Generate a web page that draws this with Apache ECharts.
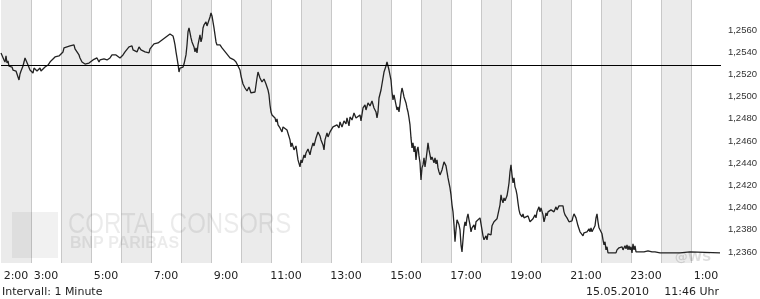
<!DOCTYPE html>
<html><head><meta charset="utf-8">
<script src="https://cdn.jsdelivr.net/npm/echarts@6/dist/echarts.min.js"></script>
<style>html,body{margin:0;padding:0;background:#fff}#c{width:760px;height:299px}</style>
</head><body><div id="c"></div>
<script>
// Hour bands of the trading day (2:00 ... 1:00 next day)
const hourLabels = ['2:00','3:00','4:00','5:00','6:00','7:00','8:00','9:00','10:00','11:00','12:00','13:00',
  '14:00','15:00','16:00','17:00','18:00','19:00','20:00','21:00','22:00','23:00','0:00','1:00'];
// Time axis span in minutes after midnight (1:30 ... 1:30 next day)
const timeStart = 90, timeEnd = 1530;
// Value span of the plot, and the labelled tick range / step
const yMin = 1.2350, yMax = 1.2587;
const tickLow = 1.2360, tickHigh = 1.2560, yStep = 0.0020;
// Previous close reference line
const previousClose = 1.25282;
// [minute of day, EUR/USD quote]
const quotes = [
[90,1.25393],[94,1.25402],[96,1.25330],[98,1.25311],[100,1.25366],[102,1.25302],[104,1.25321],[106,1.25275],[108,1.25257],[110,1.25293],
[112,1.25266],[114,1.25239],[116,1.25257],[118,1.25221],[120,1.25230],[122,1.25203],[124,1.25176],[126,1.25149],[128,1.25203],[130,1.25230],
[132,1.25239],[134,1.25275],[136,1.25311],[138,1.25348],[140,1.25357],[142,1.25330],[144,1.25284],[146,1.25266],[148,1.25239],[150,1.25257],
[152,1.25221],[154,1.25212],[156,1.25257],[158,1.25239],[160,1.25266],[162,1.25230],[164,1.25248],[166,1.25239],[168,1.25257],[170,1.25230],
[174,1.25248],[178,1.25266],[182,1.25257],[184,1.25284],[188,1.25311],[192,1.25330],[194,1.25321],[198,1.25357],[202,1.25348],[206,1.25366],
[210,1.25357],[214,1.25402],[216,1.25438],[218,1.25420],[220,1.25456],[222,1.25447],[224,1.25465],[228,1.25456],[230,1.25474],[232,1.25456],
[236,1.25465],[238,1.25429],[240,1.25438],[242,1.25402],[244,1.25411],[246,1.25375],[248,1.25348],[250,1.25330],[252,1.25311],[254,1.25321],
[256,1.25302],[258,1.25293],[262,1.25311],[266,1.25302],[270,1.25311],[274,1.25330],[278,1.25321],[282,1.25348],[286,1.25311],[288,1.25330],
[292,1.25348],[296,1.25339],[300,1.25357],[302,1.25330],[304,1.25321],[308,1.25348],[312,1.25375],[316,1.25384],[320,1.25375],[324,1.25366],
[328,1.25348],[330,1.25357],[334,1.25375],[338,1.25402],[342,1.25420],[346,1.25447],
[348,1.25438],[352,1.25456],[354,1.25420],[358,1.25438],[362,1.25402],[366,1.25447],[370,1.25420],[374,1.25438],[378,1.25402],[382,1.25420],
[386,1.25393],[388,1.25429],[392,1.25447],[396,1.25474],[400,1.25465],[404,1.25483],[408,1.25492],[412,1.25510],[416,1.25501],[420,1.25537],
[424,1.25555],[428,1.25564],[432,1.25573],[434,1.25546],[436,1.25510],[438,1.25465],[440,1.25402],[442,1.25348],[444,1.25293],[446,1.25221],
[448,1.25257],[450,1.25239],[452,1.25275],[454,1.25266],[456,1.25293],[458,1.25311],[460,1.25375],[462,1.25465],[464,1.25582],[466,1.25618],
[468,1.25600],[470,1.25528],[472,1.25492],[474,1.25510],[476,1.25447],[478,1.25402],[480,1.25438],[482,1.25393],[484,1.25465],[486,1.25510],
[488,1.25555],[490,1.25492],[492,1.25528],[494,1.25618],[496,1.25645],[498,1.25627],[500,1.25672],[502,1.25636],[504,1.25654],[506,1.25690],
[508,1.25717],[510,1.25753],[512,1.25726],[514,1.25672],[516,1.25618],[518,1.25555],[520,1.25492],[522,1.25465],[524,1.25483],[526,1.25447],
[528,1.25465],[532,1.25438],[536,1.25420],[540,1.25393],[544,1.25375],[548,1.25348],[552,1.25366],[556,1.25330],[560,1.25311],[564,1.25275],
[568,1.25239],[570,1.25185],[572,1.25149],[574,1.25113],[578,1.25077],[582,1.25050],[586,1.25086],[590,1.25032],[594,1.25014],[598,1.25041],
[600,1.25059],[602,1.25167],[604,1.25221],[606,1.25203],[608,1.25167],[612,1.25131],[616,1.25158],[620,1.25113],[624,1.25059],[626,1.25014],
[628,1.24924],[630,1.24861],[632,1.24834],[636,1.24852],[638,1.24807],[640,1.24771],[642,1.24798],[644,1.24744],[648,1.24717],[652,1.24681],
[654,1.24726],[658,1.24744],[662,1.24699],[664,1.24717],[668,1.24609],[670,1.24546],[672,1.24582],[676,1.24519],[680,1.24555],[682,1.24492],
[684,1.24429],[686,1.24411],[688,1.24366],[690,1.24429],[692,1.24402],[696,1.24474],[698,1.24447],[700,1.24492],[704,1.24528],[708,1.24474],
[710,1.24519],[714,1.24582],[716,1.24555],[720,1.24627],[722,1.24609],[724,1.24681],[728,1.24645],[730,1.24609],[734,1.24564],[736,1.24519],
[738,1.24609],[742,1.24672],[744,1.24636],[748,1.24681],[752,1.24699],[754,1.24726],[758,1.24708],[762,1.24744],[766,1.24717],[768,1.24771],
[772,1.24726],[776,1.24780],[780,1.24753],[782,1.24807],[786,1.24735],[788,1.24816],[792,1.24789],[796,1.24852],[800,1.24807],[804,1.24789],
[808,1.24834],[810,1.24780],[814,1.24897],[818,1.24924],[820,1.24879],[824,1.24942],[828,1.24915],[832,1.24960],[836,1.24897],[840,1.24861],
[842,1.24807],[844,1.24861],[846,1.24987],[850,1.25059],[852,1.25113],[856,1.25221],[860,1.25275],[862,1.25311],[864,1.25293],[866,1.25239],
[868,1.25257],
[870,1.25149],[872,1.25041],[874,1.24969],[876,1.25014],[880,1.24924],[882,1.24879],[884,1.24906],[886,1.24861],[888,1.24933],[890,1.25023],
[892,1.25077],[894,1.25041],[896,1.24996],[898,1.24969],[900,1.24942],[902,1.24897],[904,1.24861],[906,1.24807],[908,1.24744],[910,1.24627],
[912,1.24537],[914,1.24582],[916,1.24501],[918,1.24555],[920,1.24429],[922,1.24519],[924,1.24546],[926,1.24465],[928,1.24402],[930,1.24249],
[932,1.24357],[934,1.24384],[936,1.24447],[938,1.24366],[940,1.24429],[942,1.24501],[944,1.24582],[946,1.24519],[948,1.24474],[950,1.24429],
[952,1.24456],[956,1.24402],[958,1.24447],[960,1.24393],[962,1.24429],[964,1.24357],[966,1.24321],[968,1.24294],[972,1.24339],[974,1.24375],
[976,1.24411],[978,1.24429],[980,1.24375],[982,1.24321],[984,1.24267],[986,1.24221],[988,1.24177],[990,1.24114],[992,1.24024],[994,1.23961],
[996,1.23844],[998,1.23691],[1000,1.23799],[1002,1.23889],[1004,1.23907],[1006,1.23844],[1008,1.23799],[1010,1.23664],[1012,1.23600],[1014,1.23709],
[1016,1.23817],[1018,1.23871],[1020,1.23835],[1022,1.23907],[1024,1.23943],[1026,1.23889],[1028,1.23844],[1030,1.23781],[1032,1.23817],[1036,1.23844],
[1038,1.23799],[1040,1.23871],[1044,1.23889],[1048,1.23907],[1050,1.23853],[1052,1.23799],[1054,1.23745],[1056,1.23709],[1058,1.23691],[1060,1.23745],
[1062,1.23709],[1064,1.23763],[1068,1.23781],[1070,1.23753],[1072,1.23835],[1076,1.23871],[1080,1.23853],[1082,1.23898],[1086,1.23916],[1088,1.24024],
[1090,1.24114],[1092,1.24069],[1094,1.24042],[1096,1.24087],[1098,1.24060],[1100,1.24069],[1102,1.24105],[1104,1.24159],[1106,1.24221],[1108,1.24321],
[1110,1.24384],
[1112,1.24294],[1114,1.24221],[1116,1.24267],[1118,1.24186],[1120,1.24159],[1122,1.24114],[1124,1.24042],[1126,1.23979],[1128,1.23943],[1130,1.23961],
[1132,1.23916],[1134,1.23943],[1136,1.23907],[1140,1.23889],[1144,1.23925],[1148,1.23871],[1152,1.23862],[1154,1.23898],[1158,1.23934],[1160,1.23907],
[1162,1.23961],[1164,1.23979],[1166,1.24006],[1168,1.23961],[1170,1.23997],[1172,1.23979],[1174,1.23934],[1176,1.23871],[1178,1.23907],[1180,1.23952],
[1182,1.23925],[1184,1.23961],[1188,1.23943],[1190,1.23979],[1194,1.23997],[1196,1.23961],[1200,1.24006],[1202,1.23979],[1206,1.24015],[1208,1.24033],
[1210,1.23997],[1214,1.24015],[1216,1.23961],[1218,1.23934],[1220,1.23952],[1222,1.23907],[1226,1.23871],[1230,1.23853],[1232,1.23880],[1234,1.23916],
[1236,1.23943],[1238,1.23925],[1240,1.23907],[1242,1.23871],[1244,1.23835],[1246,1.23817],[1248,1.23781],[1250,1.23763],[1252,1.23799],[1254,1.23745],
[1256,1.23772],[1258,1.23790],[1262,1.23781],[1264,1.23763],[1266,1.23808],[1268,1.23781],[1270,1.23817],[1272,1.23781],[1276,1.23799],[1278,1.23835],
[1280,1.23907],[1282,1.23943],[1284,1.23871],[1286,1.23817],[1288,1.23799],[1290,1.23808],[1292,1.23763],[1294,1.23709],[1296,1.23664],[1298,1.23691],
[1300,1.23618],[1302,1.23646],[1304,1.23591],[1308,1.23573],[1312,1.23591],[1316,1.23582],[1320,1.23591],[1322,1.23618],[1324,1.23609],[1326,1.23637],
[1328,1.23628],[1332,1.23646],[1334,1.23618],[1338,1.23655],[1340,1.23628],[1342,1.23664],[1344,1.23618],[1346,1.23655],[1348,1.23618],[1350,1.23646],
[1352,1.23591],[1354,1.23673],[1356,1.23618],[1358,1.23655],[1360,1.23600],[1362,1.23618],
[1368,1.23600],[1376,1.23600],[1384,1.23609],[1386,1.23618],[1392,1.23600],[1398,1.23600],[1408,1.23591],[1428,1.23591],[1448,1.23591],[1452,1.23600],
[1468,1.23600],[1472,1.23591],[1528,1.23591]
];
const footerLeft = 'Intervall: 1 Minute';
const footerDate = '15.05.2010';
const footerTime = '11:46 Uhr';
const brandLine1 = 'CORTAL CONSORS';
const brandLine2 = 'BNP PARIBAS';
const brandCorner = '@WS';

// layout
const W = 760, H = 299;
const plotLeft = 1, plotRight = 39, plotTop = 0, plotBottom = 36;
const plotH = H - plotTop - plotBottom;
const pxPerUnit = plotH / (yMax - yMin);
const tickGridTop = plotTop + (yMax - tickHigh) * pxPerUnit;
const tickGridBottom = H - (plotTop + (yMax - tickLow) * pxPerUnit);

const gridColor = '#c8c8c8';
const wm = 'rgba(0,0,0,0.08)';

const chart = echarts.init(document.getElementById('c'), null, {renderer: 'canvas'});
chart.setOption({
  animation: false,
  backgroundColor: '#ffffff',
  grid: [
    {left: plotLeft, right: plotRight, top: plotTop, bottom: plotBottom, containLabel: false},
    {left: plotLeft, right: plotRight, top: tickGridTop, bottom: tickGridBottom, containLabel: false}
  ],
  xAxis: [
    {
      gridIndex: 0, type: 'category', data: hourLabels, boundaryGap: true,
      axisLine: {show: false}, axisTick: {show: false, interval: 0},
      axisLabel: {
        interval: (i) => i === 0 || i % 2 === 1,
        margin: 8, color: '#222', fontFamily: 'DejaVu Sans', fontSize: 11
      },
      splitLine: {show: true, interval: 0, showMinLine: false, showMaxLine: false, lineStyle: {color: gridColor, width: 1}},
      splitArea: {show: true, interval: 0, areaStyle: {color: ['#ebebeb', '#ffffff']}}
    },
    {gridIndex: 0, type: 'value', min: timeStart, max: timeEnd, show: false},
    {gridIndex: 1, type: 'value', min: timeStart, max: timeEnd, show: false}
  ],
  yAxis: [
    {gridIndex: 0, type: 'value', min: yMin, max: yMax, show: false, splitLine: {show: false}},
    {
      gridIndex: 1, type: 'value', position: 'right', min: tickLow, max: tickHigh, interval: yStep,
      axisLine: {show: false}, axisTick: {show: false},
      axisLabel: {
        margin: 12, color: '#333', fontFamily: 'Liberation Sans', fontSize: 9.5,
        formatter: (v) => v.toFixed(4).replace('.', ',')
      },
      splitLine: {show: true, lineStyle: {color: gridColor, width: 1}}
    }
  ],
  graphic: [
    {type: 'rect', z: 1, silent: true, shape: {x: 12, y: 212, width: 46, height: 46}, style: {fill: 'rgba(0,0,0,0.055)'}},
    {type: 'text', z: 1, silent: true, x: 68, y: 225, scaleX: 0.8,
      style: {text: brandLine1, font: '30px "Liberation Sans"', fill: wm, textAlign: 'left', textVerticalAlign: 'middle', align: 'left', verticalAlign: 'middle'}},
    {type: 'text', z: 1, silent: true, x: 70, y: 244,
      style: {text: brandLine2, font: 'bold 16px "Liberation Sans"', fill: wm, textAlign: 'left', textVerticalAlign: 'middle', align: 'left', verticalAlign: 'middle'}},
    {type: 'text', z: 1, silent: true, x: 693, y: 258,
      style: {text: brandCorner, font: 'bold 13px "DejaVu Sans"', fill: 'rgba(0,0,0,0.13)', textAlign: 'center', textVerticalAlign: 'middle', align: 'center', verticalAlign: 'middle'}},
    {type: 'text', z: 5, silent: true, x: 2, y: 292,
      style: {text: footerLeft, font: '11px "DejaVu Sans"', fill: '#222', textAlign: 'left', textVerticalAlign: 'middle', align: 'left', verticalAlign: 'middle'}},
    {type: 'text', z: 5, silent: true, x: 649, y: 292,
      style: {text: footerDate, font: '11px "DejaVu Sans"', fill: '#222', textAlign: 'right', textVerticalAlign: 'middle', align: 'right', verticalAlign: 'middle'}},
    {type: 'text', z: 5, silent: true, x: 719, y: 292,
      style: {text: footerTime, font: '11px "DejaVu Sans"', fill: '#222', textAlign: 'right', textVerticalAlign: 'middle', align: 'right', verticalAlign: 'middle'}}
  ],
  series: [{
    type: 'line', xAxisIndex: 1, yAxisIndex: 0, z: 3,
    data: quotes, symbol: 'none', showSymbol: false,
    lineStyle: {color: '#222', width: 1.3},
    markLine: {
      silent: true, symbol: 'none', precision: 5, label: {show: false},
      lineStyle: {color: '#000', width: 1, type: 'solid'},
      data: [{yAxis: previousClose}]
    }
  }]
});
</script>
</body></html>
